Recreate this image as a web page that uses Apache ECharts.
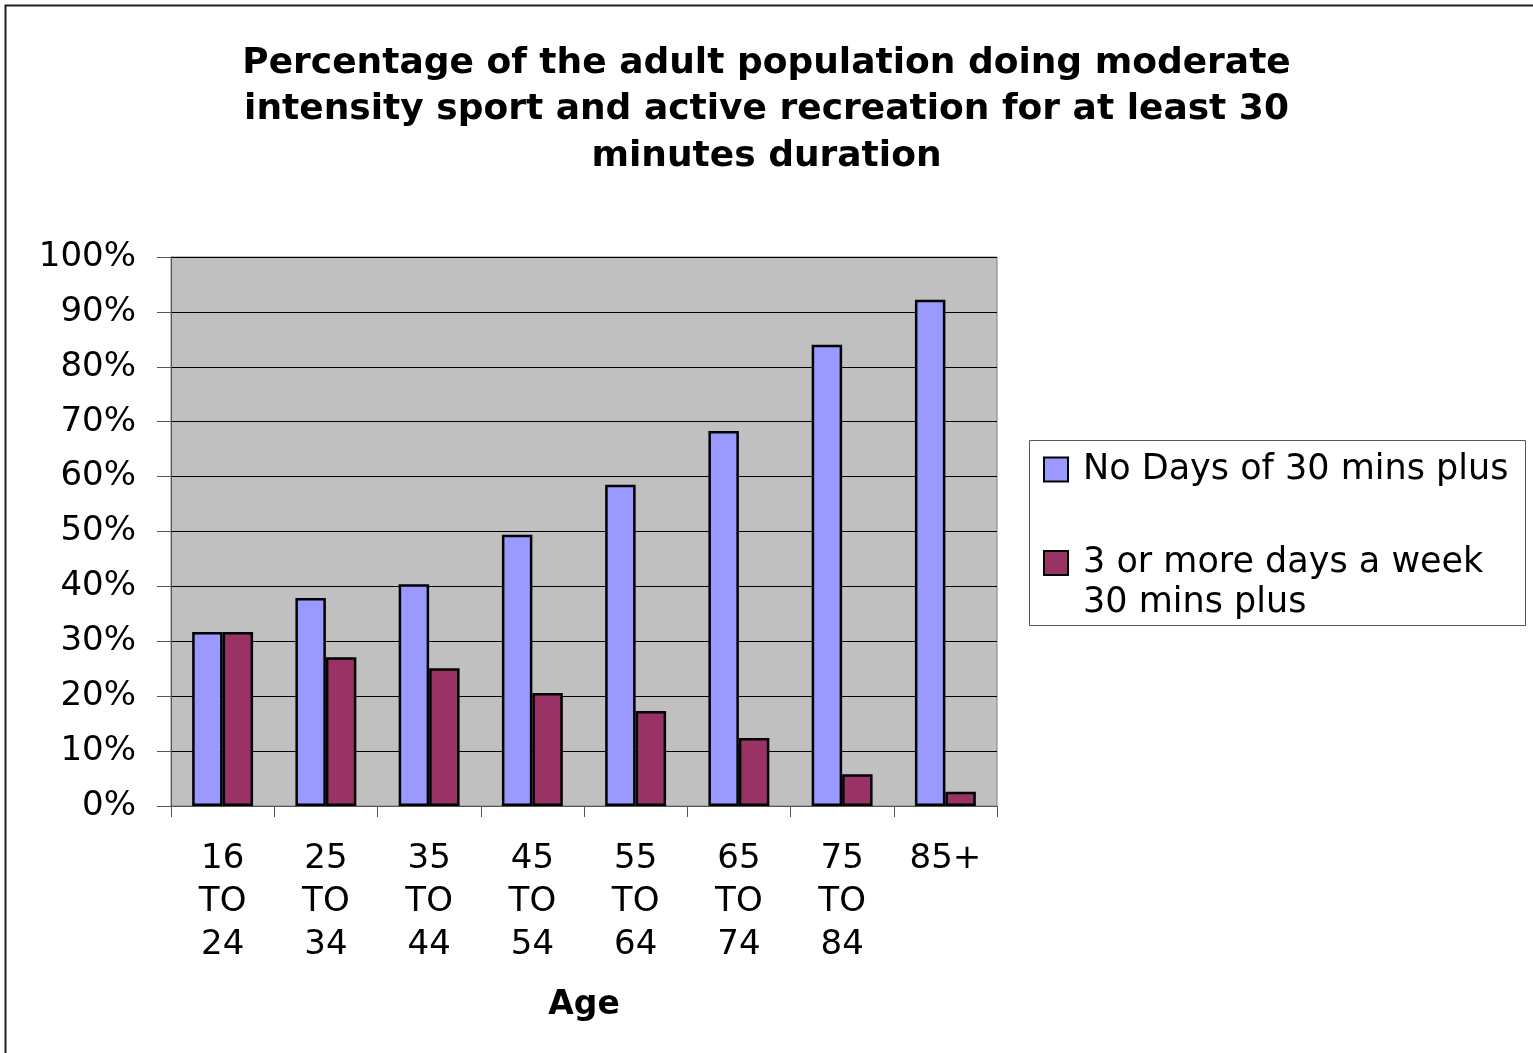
<!DOCTYPE html>
<html>
<head>
<meta charset="utf-8">
<script src="https://cdn.jsdelivr.net/npm/echarts@6/dist/echarts.min.js"></script>
<style>
html,body{margin:0;padding:0;background:#fff;}
#chart{width:1533px;height:1053px;}
</style>
</head>
<body>
<div id="chart"></div>
<script>
const categories = ['16\nTO\n24', '25\nTO\n34', '35\nTO\n44', '45\nTO\n54', '55\nTO\n64', '65\nTO\n74', '75\nTO\n84', '85+'];
const noDays = [0.317, 0.379, 0.404, 0.494, 0.585, 0.683, 0.840, 0.922];
const threePlus = [0.317, 0.271, 0.251, 0.206, 0.173, 0.124, 0.058, 0.026];
const seriesNames = ['No Days of 30 mins plus', '3 or more days a week\n30 mins plus'];
const titleText = 'Percentage of the adult population doing moderate\nintensity sport and active recreation for at least 30\nminutes duration';

const FONT = 'DejaVu Sans';
const legendRich = {
  t: {fontFamily: FONT, fontSize: 35, lineHeight: 40, color: '#000', padding: [0, 0, 0, 10]},
  e: {fontFamily: FONT, fontSize: 35, lineHeight: 40, color: '#000'}
};
const chart = echarts.init(document.getElementById('chart'), null, {renderer: 'canvas'});
chart.setOption({
  backgroundColor: '#ffffff',
  animation: false,
  title: {
    text: titleText,
    left: 'center',
    top: 40,
    padding: 0,
    textStyle: {fontFamily: FONT, fontWeight: 'bold', fontSize: 36, lineHeight: 46.5, color: '#000'}
  },
  graphic: [
    {type: 'rect', left: 3, top: 3, shape: {width: 1600, height: 1100}, style: {fill: 'none', stroke: '#222', lineWidth: 2}, z: -10},
    {type: 'rect', left: 1029, top: 440, shape: {width: 496, height: 185}, style: {fill: '#fff', stroke: '#555', lineWidth: 1}, z: -5}
  ],
  legend: [
    {
      data: [seriesNames[0]],
      left: 1043, top: 452, padding: 0,
      itemWidth: 24, itemHeight: 24,
      icon: 'rect',
      formatter: name => '{t|' + name + '}',
      textStyle: {fontFamily: FONT, fontSize: 35, color: '#000', rich: legendRich}
    },
    {
      data: [seriesNames[1]],
      left: 1043, top: 503, padding: 0,
      itemWidth: 24, itemHeight: 24,
      icon: 'rect',
      formatter: name => '{e| }\n' + name.split('\n').map(s => '{t|' + s + '}').join('\n'),
      textStyle: {fontFamily: FONT, fontSize: 35, lineHeight: 40, color: '#000', rich: legendRich}
    }
  ],
  grid: {
    left: 171, top: 257, width: 826, height: 549,
    show: true, backgroundColor: '#C0C0C0', borderColor: '#808080', borderWidth: 1,
    containLabel: false
  },
  xAxis: {
    type: 'category',
    data: categories,
    name: 'Age',
    nameLocation: 'middle',
    nameGap: 183,
    nameTextStyle: {fontFamily: FONT, fontWeight: 'bold', fontSize: 33, color: '#000'},
    axisLine: {show: true, lineStyle: {color: '#555', width: 1}},
    axisTick: {show: true, length: 11, alignWithLabel: false, interval: 0, lineStyle: {color: '#555'}},
    axisLabel: {interval: 0, fontFamily: FONT, fontSize: 34, lineHeight: 43, color: '#000', margin: 32},
    splitLine: {show: false}
  },
  yAxis: {
    type: 'value',
    min: 0, max: 1, interval: 0.1,
    axisLine: {show: true, lineStyle: {color: '#555', width: 1}},
    axisTick: {show: true, length: 14, lineStyle: {color: '#555'}},
    axisLabel: {
      fontFamily: FONT, fontSize: 34, color: '#000', margin: 35,
      formatter: v => Math.round(v * 100) + '%'
    },
    splitLine: {show: true, lineStyle: {color: '#000', width: 1}}
  },
  series: [
    {
      name: seriesNames[0], type: 'bar', data: noDays,
      barGap: '0%', barCategoryGap: '41%',
      itemStyle: {color: '#9999FF', borderColor: '#000', borderWidth: 2.5}
    },
    {
      name: seriesNames[1], type: 'bar', data: threePlus,
      barGap: '0%', barCategoryGap: '41%',
      itemStyle: {color: '#993366', borderColor: '#000', borderWidth: 2.5}
    }
  ]
});
</script>
</body>
</html>
